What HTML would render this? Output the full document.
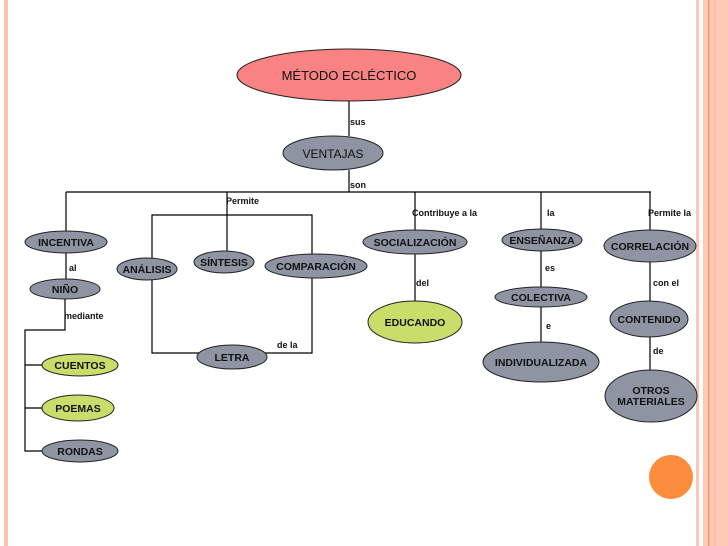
<!DOCTYPE html>
<html><head><meta charset="utf-8"><style>
html,body{margin:0;padding:0;background:#fff;}
svg{display:block;}
.n{font-family:"Liberation Sans",sans-serif;font-weight:bold;font-size:10.5px;fill:#111;text-anchor:middle;}
.l{font-family:"Liberation Sans",sans-serif;font-weight:bold;font-size:9px;fill:#111;}
ellipse{stroke:#222;stroke-width:1;}
.g{fill:#8f94a3;}
.y{fill:#c9dd6b;}
line,polyline{stroke:#000;stroke-width:1.2;fill:none;}
</style></head><body>
<svg width="728" height="546" viewBox="0 0 728 546" xmlns="http://www.w3.org/2000/svg">
<rect x="4" y="0" width="4" height="546" fill="#fdc5b0"/>
<rect x="696" y="0" width="3" height="546" fill="#f9c8b8"/>
<rect x="703" y="0" width="25" height="546" fill="#fdcab6"/>
<rect x="708" y="0" width="1.5" height="546" fill="#f29a6a"/>
<rect x="714" y="0" width="2" height="546" fill="#fbbfa6"/>
<circle cx="671" cy="477" r="22" fill="#fb8d3c"/>

<line x1="349" y1="101" x2="349" y2="136"/>
<line x1="349" y1="170" x2="349" y2="192"/>
<line x1="66" y1="192" x2="651" y2="192"/>
<line x1="66" y1="192" x2="66" y2="232"/>
<line x1="227" y1="192" x2="227" y2="252"/>
<line x1="415" y1="192" x2="415" y2="231"/>
<line x1="541" y1="192" x2="541" y2="230"/>
<line x1="650" y1="192" x2="650" y2="231"/>
<polyline points="152,269 152,215 312,215 312,266"/>
<polyline points="152,270 152,353 232,353"/>
<polyline points="312,266 312,353 232,353"/>
<line x1="66" y1="252" x2="66" y2="280"/>
<polyline points="65,297 65,330 25,330 25,451 42,451"/>
<line x1="25" y1="365" x2="42" y2="365"/>
<line x1="25" y1="408" x2="42" y2="408"/>
<line x1="415" y1="254" x2="415" y2="302"/>
<line x1="541" y1="250" x2="541" y2="288"/>
<line x1="541" y1="307" x2="541" y2="343"/>
<line x1="650" y1="262" x2="650" y2="302"/>
<line x1="650" y1="337" x2="650" y2="371"/>

<ellipse cx="349" cy="75" rx="112" ry="26" fill="#f98282"/>
<text class="n" x="349" y="80" style="font-weight:normal;font-size:13px">MÉTODO ECLÉCTICO</text>
<ellipse class="g" cx="333" cy="153" rx="50" ry="17"/>
<text class="n" x="333" y="158" style="font-weight:normal;font-size:12px">VENTAJAS</text>

<text class="l" x="350" y="125">sus</text>
<text class="l" x="350" y="188">son</text>
<text class="l" x="226" y="204">Permite</text>
<text class="l" x="412" y="216">Contribuye a la</text>
<text class="l" x="547" y="216">la</text>
<text class="l" x="648" y="216">Permite la</text>
<text class="l" x="69" y="271">al</text>
<text class="l" x="64" y="319">mediante</text>
<text class="l" x="277" y="348">de la</text>
<text class="l" x="416" y="286">del</text>
<text class="l" x="545" y="271">es</text>
<text class="l" x="546" y="329">e</text>
<text class="l" x="653" y="286">con el</text>
<text class="l" x="653" y="354">de</text>

<ellipse class="g" cx="66" cy="242" rx="41" ry="11"/><text class="n" x="66" y="246">INCENTIVA</text>
<ellipse class="g" cx="65" cy="289" rx="35" ry="10"/><text class="n" x="65" y="293">NIÑO</text>
<ellipse class="y" cx="80" cy="365" rx="38" ry="11"/><text class="n" x="80" y="369">CUENTOS</text>
<ellipse class="y" cx="78" cy="408" rx="36" ry="13"/><text class="n" x="78" y="412">POEMAS</text>
<ellipse class="g" cx="80" cy="451" rx="38" ry="11"/><text class="n" x="80" y="455">RONDAS</text>
<ellipse class="g" cx="147" cy="269" rx="30" ry="11"/><text class="n" x="147" y="273">ANÁLISIS</text>
<ellipse class="g" cx="224" cy="262" rx="30" ry="11"/><text class="n" x="224" y="266">SÍNTESIS</text>
<ellipse class="g" cx="316" cy="266" rx="51" ry="12"/><text class="n" x="316" y="270">COMPARACIÓN</text>
<ellipse class="g" cx="232" cy="357" rx="35" ry="12"/><text class="n" x="232" y="361">LETRA</text>
<ellipse class="g" cx="415" cy="242" rx="52" ry="12"/><text class="n" x="415" y="246">SOCIALIZACIÓN</text>
<ellipse class="y" cx="415" cy="322" rx="47" ry="21"/><text class="n" x="415" y="326">EDUCANDO</text>
<ellipse class="g" cx="542" cy="240" rx="40" ry="11"/><text class="n" x="542" y="244">ENSEÑANZA</text>
<ellipse class="g" cx="541" cy="297" rx="46" ry="10"/><text class="n" x="541" y="301">COLECTIVA</text>
<ellipse class="g" cx="541" cy="362" rx="58" ry="20"/><text class="n" x="541" y="366">INDIVIDUALIZADA</text>
<ellipse class="g" cx="650" cy="246" rx="46" ry="16"/><text class="n" x="650" y="250">CORRELACIÓN</text>
<ellipse class="g" cx="649" cy="319" rx="39" ry="18"/><text class="n" x="649" y="323">CONTENIDO</text>
<ellipse class="g" cx="651" cy="396" rx="46" ry="26"/>
<text class="n" x="651" y="394">OTROS</text><text class="n" x="651" y="405">MATERIALES</text>
</svg>
</body></html>
